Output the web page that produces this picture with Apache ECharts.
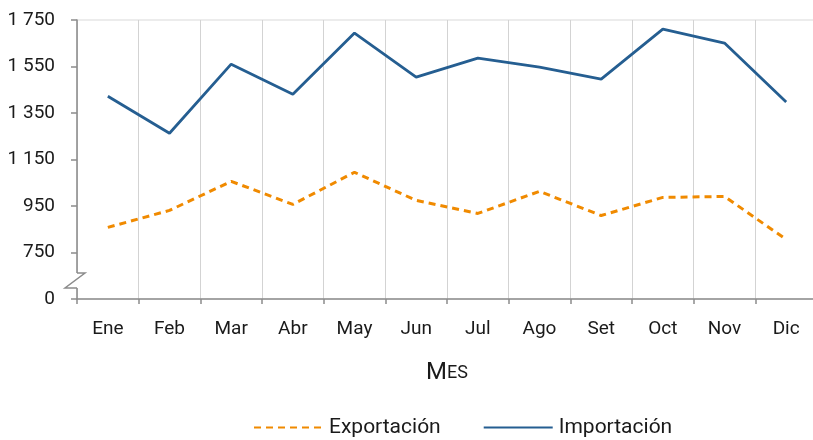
<!DOCTYPE html>
<html>
<head>
<meta charset="utf-8">
<script src="https://cdn.jsdelivr.net/npm/echarts@6/dist/echarts.min.js"></script>
<style>html,body{margin:0;padding:0;background:#fff;overflow:hidden;width:813px;height:440px;}#c{width:822px;height:440px;}</style>
</head>
<body>
<div id="c"></div>
<script>
const months = ['Ene','Feb','Mar','Abr','May','Jun','Jul','Ago','Set','Oct','Nov','Dic'];
const exportacion = [858, 931, 1056, 957, 1095, 974, 918, 1013, 909, 987, 991, 806];
const importacion = [1422, 1263, 1560, 1431, 1694, 1504, 1586, 1547, 1496, 1711, 1651, 1397];
const yTicks = [550, 750, 950, 1150, 1350, 1550, 1750];
const yTickLabels = ['0', '750', '950', '1 150', '1 350', '1 550', '1 750'];

const FONT = 'Roboto, "DejaVu Sans", sans-serif';
const chart = echarts.init(document.getElementById('c'), null, {renderer: 'canvas'});
const option = {
  animation: false,
  backgroundColor: '#fff',
  textStyle: {fontFamily: FONT},
  grid: {left: 77, top: 20, width: 740, height: 279, show: true, borderColor: '#d9d9d9', borderWidth: 1},
  xAxis: {
    type: 'category', data: months, boundaryGap: true,
    axisLine: {lineStyle: {color: '#8c8c8c', width: 1.5}},
    axisTick: {show: true, length: 5, lineStyle: {color: '#8c8c8c', width: 1.5}},
    axisLabel: {color: '#1a1a1a', fontSize: 19, fontFamily: FONT, margin: 21},
    splitLine: {show: true, lineStyle: {color: '#d3d3d3', width: 1}},
    name: '{a|M}{b|ES}', nameLocation: 'middle', nameGap: 62,
    nameTextStyle: {rich: {a: {fontSize: 24, fontFamily: FONT, color: '#1a1a1a'}, b: {fontSize: 18, fontFamily: FONT, color: '#1a1a1a'}}}
  },
  yAxis: {
    type: 'value', min: yTicks[0], max: yTicks[yTicks.length - 1], interval: 200,
    axisLine: {show: true, lineStyle: {color: '#8c8c8c', width: 1.5}},
    axisTick: {show: true, length: 6, lineStyle: {color: '#8c8c8c', width: 1.5}},
    axisLabel: {color: '#1a1a1a', fontSize: 19, fontFamily: FONT, margin: 22,
      formatter: v => { const i = yTicks.indexOf(v); return i >= 0 ? yTickLabels[i] : ''; }},
    splitLine: {show: false}
  },
  legend: {
    top: 417, left: 253, padding: 0, itemWidth: 69, itemHeight: 14, itemGap: 42,
    itemStyle: {opacity: 0},
    textStyle: {fontSize: 21, fontFamily: FONT, color: '#1a1a1a', padding: [0,0,0,1]},
    data: ['Exportación', 'Importación']
  },
  series: [
    {name: 'Exportación', type: 'line', data: exportacion, symbol: 'none',
     lineStyle: {color: '#f08a00', width: 3, type: [7, 5]}, itemStyle: {color: '#f08a00'}},
    {name: 'Importación', type: 'line', data: importacion, symbol: 'none',
     lineStyle: {color: '#255e91', width: 2.8}, itemStyle: {color: '#255e91'}}
  ]
};
chart.setOption(option);

// axis break symbol
const yBase = chart.convertToPixel({yAxisIndex: 0}, yTicks[0]);
const x0 = 77;
chart.setOption({
  graphic: [
    {type: 'rect', shape: {x: x0 - 3, y: yBase - 26, width: 6, height: 15}, style: {fill: '#fff'}, z: 100},
    {type: 'polyline', shape: {points: [[x0, yBase - 26], [x0 + 8, yBase - 26], [x0 - 12, yBase - 11], [x0, yBase - 11]]},
     style: {stroke: '#8c8c8c', lineWidth: 1.5, fill: null}, z: 101}
  ]
});
</script>
</body>
</html>
